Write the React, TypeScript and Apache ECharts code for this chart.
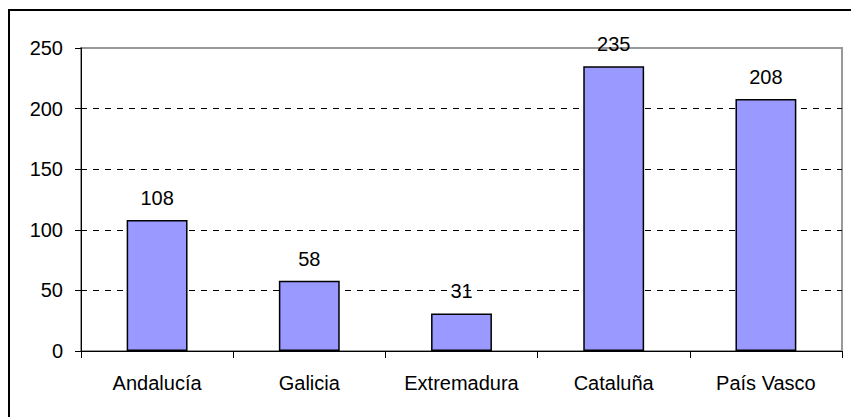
import React, { useEffect, useRef } from "react";
import * as echarts from "echarts";

const categories = ["Andalucía", "Galicia", "Extremadura", "Cataluña", "País Vasco"];
const values = [108, 58, 31, 235, 208];
const yMin = 0;
const yMax = 250;
const yInterval = 50;

const FONT = "'Liberation Sans', Arial, sans-serif";

export default function App() {
  const ref = useRef<HTMLDivElement>(null);
  useEffect(() => {
    document.body.style.margin = "0";
    const chart = echarts.init(ref.current!, undefined, { renderer: "svg" });
    chart.setOption({
      animation: false,
      backgroundColor: "#ffffff",
      textStyle: { fontFamily: FONT },
      grid: {
        left: 81,
        right: 9,
        top: 48,
        bottom: 66,
        show: true,
        borderColor: "#999999",
        borderWidth: 2,
        backgroundColor: "transparent",
      },
      graphic: [
        {
          type: "rect",
          shape: { x: 9, y: 10, width: 900, height: 500 },
          style: { fill: "none", stroke: "#000000", lineWidth: 2 },
          silent: true,
          z: 100,
        },
      ],
      xAxis: {
        type: "category",
        data: categories,
        boundaryGap: true,
        axisLine: { show: true, lineStyle: { color: "#000000", width: 1 } },
        axisTick: { show: true, length: 7, alignWithLabel: false, lineStyle: { color: "#000000" } },
        axisLabel: { color: "#000000", fontSize: 20, fontFamily: FONT, margin: 22 },
        splitLine: { show: false },
      },
      yAxis: {
        type: "value",
        min: yMin,
        max: yMax,
        interval: yInterval,
        axisLine: { show: true, lineStyle: { color: "#000000", width: 1 } },
        axisTick: { show: true, length: 6, lineStyle: { color: "#000000" } },
        axisLabel: { color: "#000000", fontSize: 20, fontFamily: FONT, margin: 18 },
        splitLine: {
          show: true,
          showMinLine: false,
          showMaxLine: false,
          lineStyle: { color: "#000000", type: [6, 6], width: 1 },
        },
      },
      series: [
        {
          type: "bar",
          data: values,
          barCategoryGap: "60%",
          itemStyle: { color: "#9999FF", borderColor: "#000000", borderWidth: 1.5 },
          label: {
            show: true,
            position: "top",
            distance: 12,
            color: "#000000",
            fontSize: 20,
            fontFamily: FONT,
          },
        },
      ],
    });
    return () => chart.dispose();
  }, []);
  return <div ref={ref} style={{ width: 851, height: 417 }} />;
}
